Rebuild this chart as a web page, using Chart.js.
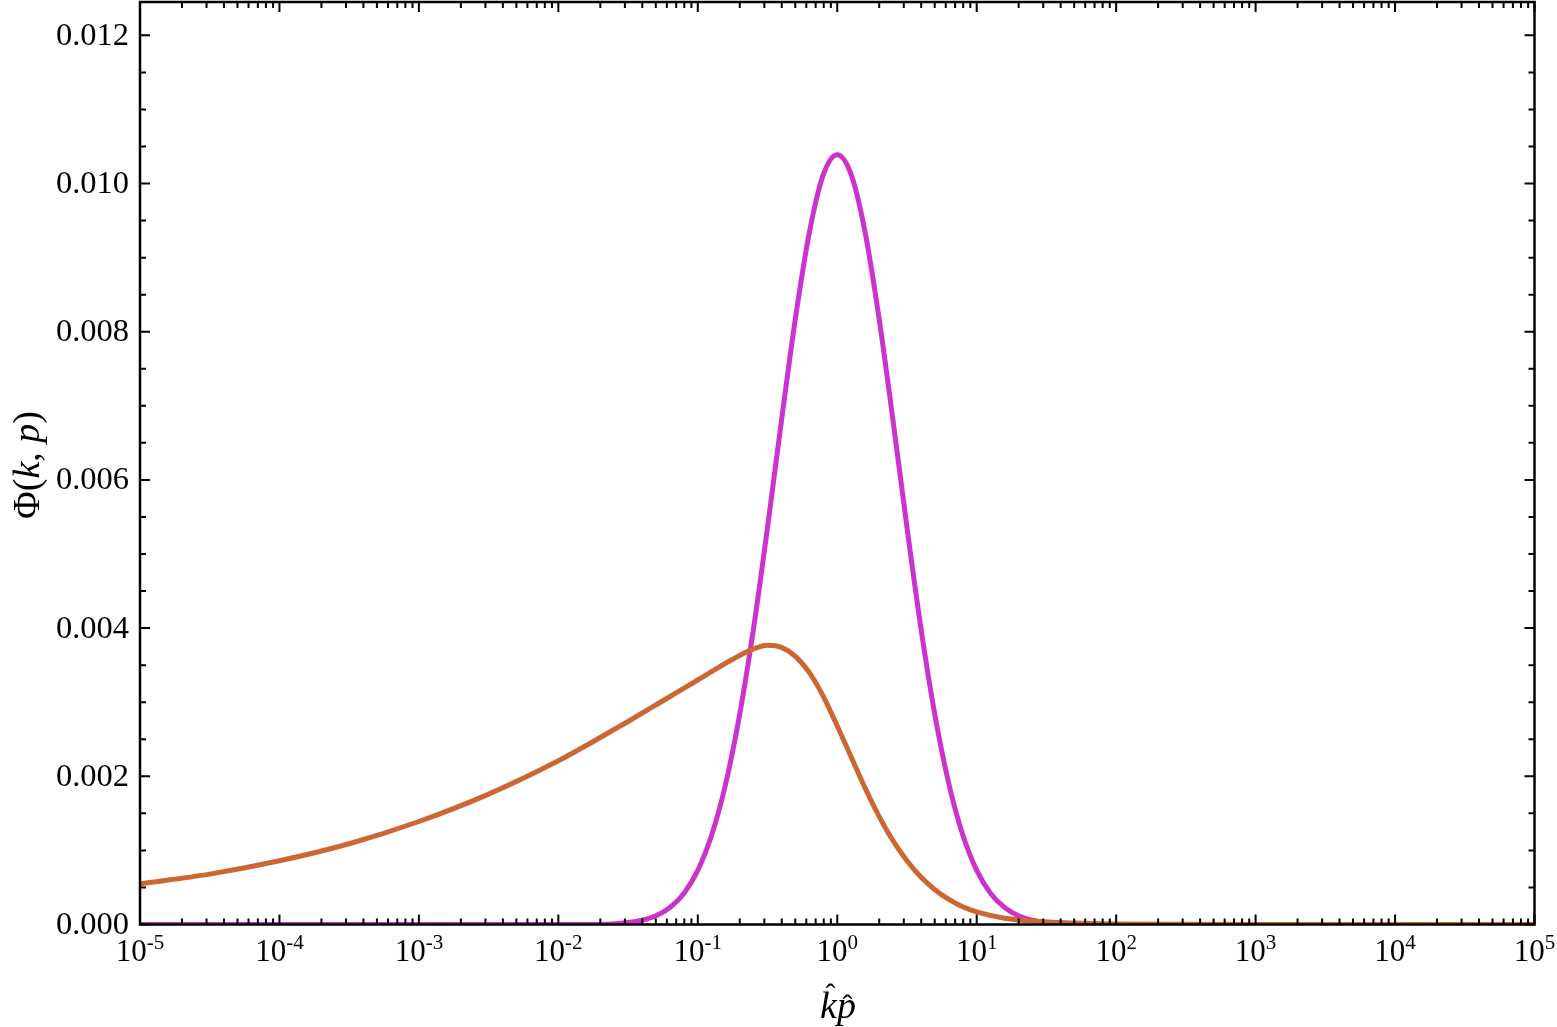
<!DOCTYPE html>
<html>
<head>
<meta charset="utf-8">
<script src="https://cdn.jsdelivr.net/npm/chart.js"></script>
<style>
body{margin:0;background:#fff}
canvas{display:block}
</style>
</head>
<body>
<canvas id="c" width="1557" height="1027"></canvas>
<script>
/* =========================
   DATA
========================= */
const kpMagenta=[1e-5,1e-3,1e-2,0.01995,0.03162,0.03981,0.05012,0.06310,0.07943,0.1,0.1259,0.1585,0.1995,0.2512,0.3162,0.3981,0.5012,0.6310,0.7943,1,
 1.259,1.585,1.995,2.512,3.162,3.981,5.012,6.310,7.943,10,12.59,15.85,19.95,25.12,31.62,39.81,63.10,100,1e3,1e5];
const phiMagenta=[0,0,0,0.000001,0.000027,0.000058,0.000118,0.00023,0.00042,0.00073,0.00121,0.00190,0.00283,0.00400,0.00536,0.00680,0.00818,0.00934,0.01012,0.01039,
 0.01012,0.00934,0.00818,0.00680,0.00536,0.00400,0.00283,0.00190,0.00121,0.00073,0.00042,0.00023,0.000118,0.000058,0.000027,0.000012,0.000002,0,0,0];

const kpOrange=[1e-5,3.162e-5,1e-4,3.162e-4,1e-3,3.162e-3,0.01,0.01778,0.03162,0.05623,0.1,0.1778,0.2512,0.3162,0.3981,0.5012,0.6310,0.7943,1,
 1.259,1.585,1.995,2.512,3.162,3.981,5.012,6.310,7.943,10,15.85,28.18,50.12,100,316.2,1e3,1e5];
const phiOrange=[0.00055,0.00068,0.00086,0.00109,0.00139,0.00176,0.00221,0.00247,0.00274,0.00302,0.00330,0.00358,0.00372,0.00377,0.00374,0.00362,0.00340,0.00308,0.00268,
 0.00226,0.00184,0.00146,0.00113,0.00086,0.00064,0.00047,0.00034,0.00024,0.00017,0.000085,0.00004,0.00002,0.000008,0.000002,0,0];

const xMajor=[1e-5,1e-4,1e-3,1e-2,1e-1,1,10,100,1e3,1e4,1e5];
const xExp=["-5","-4","-3","-2","-1","0","1","2","3","4","5"];
const yMajor=[0,0.002,0.004,0.006,0.008,0.010,0.012];
const yLabels=["0.000","0.002","0.004","0.006","0.008","0.010","0.012"];

/* =========================
   HELPERS
========================= */
const serif="'Liberation Serif','Times New Roman',serif";

function pts(xs,ys){
  return xs.map((v,i)=>({x:v,y:ys[i]}));
}

/* frame, inward ticks, labels */
const framePlugin={
  id:"frame",
  afterDatasetsDraw(chart){
    const {ctx,chartArea:a,scales:{x,y}}=chart;
    ctx.save();
    ctx.strokeStyle="#000";
    ctx.fillStyle="#000";
    ctx.lineWidth=2;
    ctx.beginPath();
    const xt=(v,len)=>{
      const p=x.getPixelForValue(v);
      ctx.moveTo(p,a.bottom);ctx.lineTo(p,a.bottom-len);
      ctx.moveTo(p,a.top);ctx.lineTo(p,a.top+len);
    };
    const yt=(v,len)=>{
      const p=y.getPixelForValue(v);
      ctx.moveTo(a.left,p);ctx.lineTo(a.left+len,p);
      ctx.moveTo(a.right,p);ctx.lineTo(a.right-len,p);
    };
    for(let i=0;i<xMajor.length;i++){
      xt(xMajor[i],10);
      if(i<xMajor.length-1){
        for(let m=2;m<10;m++) xt(xMajor[i]*m,6);
      }
    }
    yMajor.forEach(v=>yt(v,10));
    for(let v=0.0005;v<y.max;v+=0.0005){
      if(Math.abs(v/0.002-Math.round(v/0.002))>0.01) yt(v,6);
    }
    ctx.stroke();

    ctx.lineWidth=2.5;
    ctx.strokeRect(a.left,a.top,a.right-a.left,a.bottom-a.top);

    // y tick labels
    ctx.font="32.5px "+serif;
    ctx.textAlign="right";
    ctx.textBaseline="middle";
    yMajor.forEach((v,i)=>ctx.fillText(yLabels[i],a.left-11,y.getPixelForValue(v)+1));

    // x tick labels 10^n
    ctx.textBaseline="alphabetic";
    ctx.textAlign="left";
    xMajor.forEach((v,i)=>{
      const p=x.getPixelForValue(v);
      ctx.font="31px "+serif;
      const w1=ctx.measureText("10").width;
      ctx.font="21px "+serif;
      const w2=ctx.measureText(xExp[i]).width;
      const s=p-(w1+w2)/2;
      ctx.font="31px "+serif;
      ctx.fillText("10",s,961);
      ctx.font="21px "+serif;
      ctx.fillText(xExp[i],s+w1,949);
    });

    // x axis title: k-hat p-hat
    ctx.font="italic 38px "+serif;
    const wk=ctx.measureText("k").width;
    const wp=ctx.measureText("p").width;
    const sx=838-(wk+wp)/2;
    ctx.fillText("k",sx,1018);
    ctx.fillText("p",sx+wk,1018);
    ctx.font="30px "+serif;
    ctx.textAlign="center";
    ctx.fillText("\u02C6",sx+wk*0.62,1004);
    ctx.fillText("\u02C6",sx+wk+wp*0.55,1015);

    // y axis title: Phi(k, p)
    ctx.save();
    ctx.translate(39,465);
    ctx.rotate(-Math.PI/2);
    const parts=[["\u03A6(",false],["k",true],[", ",false],["p",true],[")",false]];
    let tw=0;
    parts.forEach(pp=>{ctx.font=(pp[1]?"italic ":"")+"38px "+serif;tw+=ctx.measureText(pp[0]).width;});
    let cx=-tw/2;
    ctx.textAlign="left";
    parts.forEach(pp=>{
      ctx.font=(pp[1]?"italic ":"")+"38px "+serif;
      ctx.fillText(pp[0],cx,0);
      cx+=ctx.measureText(pp[0]).width;
    });
    ctx.restore();

    ctx.restore();
  }
};

/* =========================
   CHART
========================= */
new Chart(document.getElementById("c"),{
  type:"line",
  data:{
    datasets:[
      {data:pts(kpOrange,phiOrange),borderColor:"#CC6633",borderWidth:5,pointRadius:0,cubicInterpolationMode:"monotone",fill:false},
      {data:pts(kpMagenta,phiMagenta),borderColor:"#CC33CC",borderWidth:5,pointRadius:0,cubicInterpolationMode:"monotone",fill:false}
    ]
  },
  options:{
    responsive:false,
    animation:false,
    devicePixelRatio:1,
    layout:{padding:{left:140,right:22.5,top:2,bottom:102.5}},
    plugins:{legend:{display:false},tooltip:{enabled:false}},
    scales:{
      x:{type:"logarithmic",min:1e-5,max:1e5,display:false},
      y:{type:"linear",min:0,max:0.01245,display:false}
    }
  },
  plugins:[framePlugin]
});
</script>
</body>
</html>
